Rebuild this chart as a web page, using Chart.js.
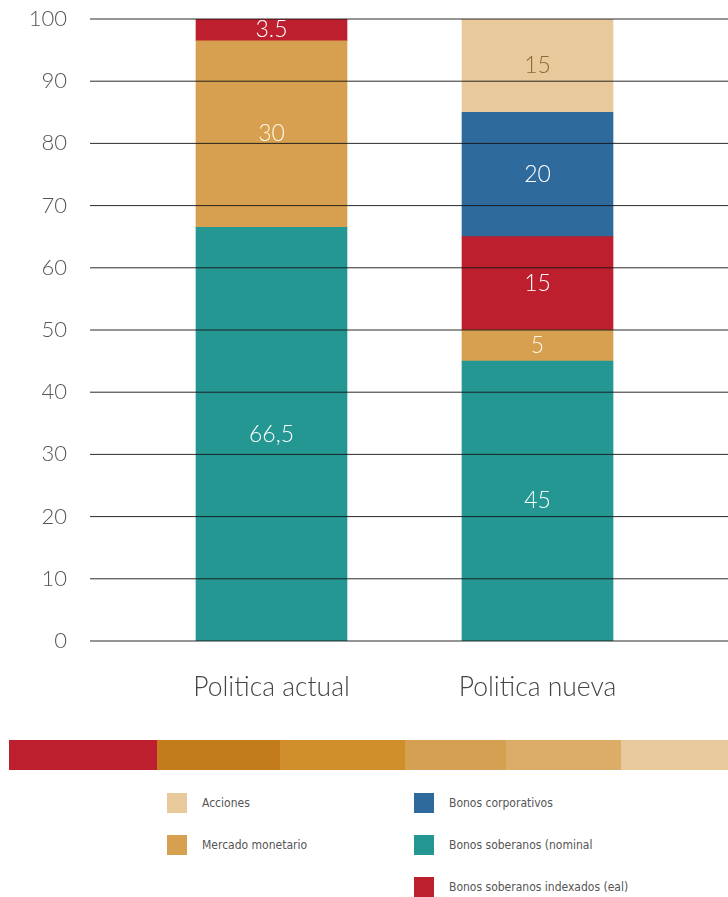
<!DOCTYPE html>
<html>
<head>
<meta charset="utf-8">
<script src="https://cdn.jsdelivr.net/npm/chart.js@4/dist/chart.umd.min.js"></script>
<style>
    body { margin: 0; background: #fff; width: 728px; height: 897px; overflow: hidden; position: relative; }
    #wrap { position: absolute; left: 0; top: 0; width: 728px; height: 710px; }
    #strip { position: absolute; left: 9px; top: 740px; height: 30px; display: flex; }
    #strip div { height: 30px; }
    .lg { position: absolute; font-family: "DejaVu Sans Condensed", "Liberation Sans Narrow", sans-serif; font-stretch: condensed; font-size: 12px; color: #555; line-height: 20px; }
    .lg span { position: absolute; left: 0; top: 0; width: 20px; height: 20px; }
    .lg b { font-weight: normal; position: absolute; left: 35px; top: 0; white-space: nowrap; }
</style>
</head>
<body>
<div id="wrap"><canvas id="chart"></canvas></div>
<div id="strip"></div>
<div id="legend"></div>
<script>
// categories and series (bottom to top of the stack)
const categories = ['Politica actual', 'Politica nueva'];
const nominal = [66.5, 45];
const monetario = [30, 5];
const indexados = [3.5, 15];
const corporativos = [0, 20];
const acciones = [0, 15];

// text written inside the bars
const nominalText = ['66,5', '45'];
const monetarioText = ['30', '5'];
const indexadosText = ['3.5', '15'];
const corporativosText = ['', '20'];
const accionesText = ['', '15'];

const yTicks = [0, 10, 20, 30, 40, 50, 60, 70, 80, 90, 100];

const stripColors = ['#be1f2f', '#c27c1b', '#cf8e2a', '#d6a052', '#dcad69', '#e8c99b'];
const stripWidths = [148, 123, 125, 101, 115, 107];

const datasets = [
    { label: 'Bonos soberanos (nominal', data: nominal, backgroundColor: '#259793', text: nominalText, textColor: '#ffffff' },
    { label: 'Mercado monetario', data: monetario, backgroundColor: '#d6a050', text: monetarioText, textColor: '#fff6e6' },
    { label: 'Bonos soberanos indexados (eal)', data: indexados, backgroundColor: '#be1f2f', text: indexadosText, textColor: '#ffffff' },
    { label: 'Bonos corporativos', data: corporativos, backgroundColor: '#2f6a9c', text: corporativosText, textColor: '#ffffff' },
    { label: 'Acciones', data: acciones, backgroundColor: '#e8c99b', text: accionesText, textColor: '#8b6a35' }
];

// gridlines drawn on top of the bars, running past the plot area
const gridOnTop = {
    id: 'gridOnTop',
    afterDatasetsDraw(chart) {
        const ctx = chart.ctx;
        const y = chart.scales.y;
        ctx.save();
        ctx.strokeStyle = 'rgba(20,20,20,0.9)';
        ctx.lineWidth = 1;
        yTicks.forEach(v => {
            const py = y.getPixelForValue(v);
            ctx.beginPath();
            ctx.moveTo(90, py);
            ctx.lineTo(chart.width, py);
            ctx.stroke();
        });
        ctx.restore();

        // values inside the bars
        ctx.save();
        ctx.font = '300 23px Lato, "Open Sans", sans-serif';
        ctx.textAlign = 'center';
        ctx.textBaseline = 'middle';
        chart.data.datasets.forEach((ds, i) => {
            chart.getDatasetMeta(i).data.forEach((bar, j) => {
                if (!ds.data[j]) return;
                const p = bar.getProps(['x', 'y', 'base'], true);
                ctx.fillStyle = ds.textColor;
                ctx.fillText(ds.text[j], p.x, (p.y + p.base) / 2);
            });
        });
        ctx.restore();
    }
};

new Chart(document.getElementById('chart').getContext('2d'), {
    type: 'bar',
    data: { labels: categories, datasets: datasets },
    options: {
        responsive: true,
        maintainAspectRatio: false,
        animation: false,
        layout: { padding: { top: 19, right: 57.5, left: 0, bottom: 0 } },
        plugins: { legend: { display: false }, tooltip: { enabled: false } },
        datasets: { bar: { barThickness: 151, borderWidth: 0 } },
        scales: {
            x: {
                stacked: true,
                grid: { display: false, drawTicks: false },
                border: { display: false },
                ticks: { color: '#444', padding: 31, font: { family: 'Lato, "Open Sans", sans-serif', size: 26.5, weight: 300 } },
                afterFit: s => { s.height = 69; }
            },
            y: {
                stacked: true,
                min: 0,
                max: 100,
                grid: { display: false, drawTicks: false },
                border: { display: false },
                ticks: { stepSize: 10, color: '#555', padding: 71.5, font: { family: 'Lato, "Open Sans", sans-serif', size: 22, weight: 300 } },
                afterFit: s => { s.width = 138.5; s.paddingTop = 0; s.paddingBottom = 0; }
            }
        }
    },
    plugins: [gridOnTop]
});

// decorative colour strip
const strip = document.getElementById('strip');
stripColors.forEach((c, i) => {
    const d = document.createElement('div');
    d.style.background = c;
    d.style.width = stripWidths[i] + 'px';
    strip.appendChild(d);
});

// legend, two columns
const legendPos = [
    [4, 167, 793], [3, 414, 793],
    [1, 167, 835], [0, 414, 835],
    [2, 414, 877]
];
const legend = document.getElementById('legend');
legendPos.forEach(([i, x, y]) => {
    const el = document.createElement('div');
    el.className = 'lg';
    el.style.left = x + 'px';
    el.style.top = y + 'px';
    el.innerHTML = '<span style="background:' + datasets[i].backgroundColor + '"></span><b>' + datasets[i].label + '</b>';
    legend.appendChild(el);
});
</script>
</body>
</html>
